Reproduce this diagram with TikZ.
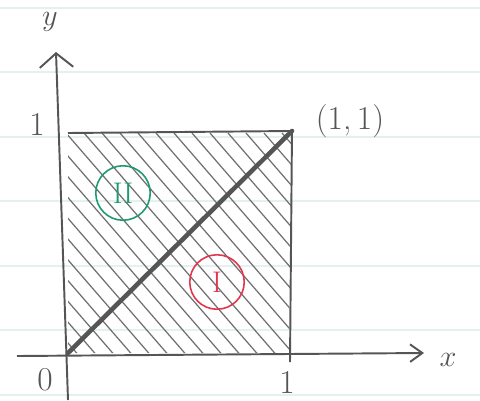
\documentclass[tikz,border=0pt]{standalone}
\usetikzlibrary{arrows.meta}
\definecolor{pencil}{HTML}{555555}
\definecolor{hatch}{HTML}{707070}
\definecolor{ruled}{HTML}{E3F2F0}
\definecolor{pgreen}{HTML}{1E9A6C}
\definecolor{pred}{HTML}{E0364E}
\begin{document}
\begin{tikzpicture}[x=0.02cm,y=-0.02cm,
  axis/.style={draw=pencil,line width=1.1pt},
  lbl/.style={text=pencil,font=\fontsize{19}{19}\selectfont,inner sep=0pt},
  region/.style={circle,draw,line width=0.9pt,minimum size=31pt,inner sep=0pt,font=\fontsize{17}{17}\selectfont}]
\fill[white] (0,0) rectangle (480,400);
\useasboundingbox (0,0) rectangle (480,400);
% ruled paper lines
\foreach \yy in {8,72,137,201,266,330,395}
  \draw[ruled,line width=0.8pt] (0,\yy) -- (480,\yy);
% coordinates
\coordinate (O) at (68,353);
\coordinate (X0) at (17,356);
\coordinate (X1) at (424,353);
\coordinate (Y0) at (68,400);
\coordinate (Y1) at (56,52);
\coordinate (TL) at (68,133);
\coordinate (TR) at (292,131);
\coordinate (BR) at (289,353);
\coordinate (RB) at (290,362);
% hatching
\begin{scope}
  \clip (O) -- (TL) -- (TR) -- (BR) -- cycle;
  \foreach \c in {-150,-132,...,300}
    \draw[hatch,line width=0.7pt] (\c,133) -- (\c+260,433);
\end{scope}
% square
\draw[axis] (TL) -- (TR);
\draw[axis] (TR) -- (RB);
% axes
\draw[axis,-{Straight Barb[length=7pt,width=10pt]}] (X0) -- (X1);
\draw[axis,-{Straight Barb[length=8pt,width=19pt]}] (Y0) -- (Y1);
% diagonal
\draw[pencil,line width=2.6pt,line cap=round] (O) -- (TR);
% labels
\node[lbl] (ly) at (50,22) {$y$};
\node[lbl] (lx) at (448,360) {$x$};
\node[lbl] (l0) at (45,380) {0};
\node[lbl] (l1x) at (287,382) {1};
\node[lbl] (l1y) at (37,124) {1};
\node[lbl] (l11) at (350,121) {(1,\,1)};
% regions
\node[region,draw=pgreen,text=pgreen] (r2) at (123,193) {II};
\node[region,draw=pred,text=pred] (r1) at (217,282) {I};
\end{tikzpicture}
\end{document}
